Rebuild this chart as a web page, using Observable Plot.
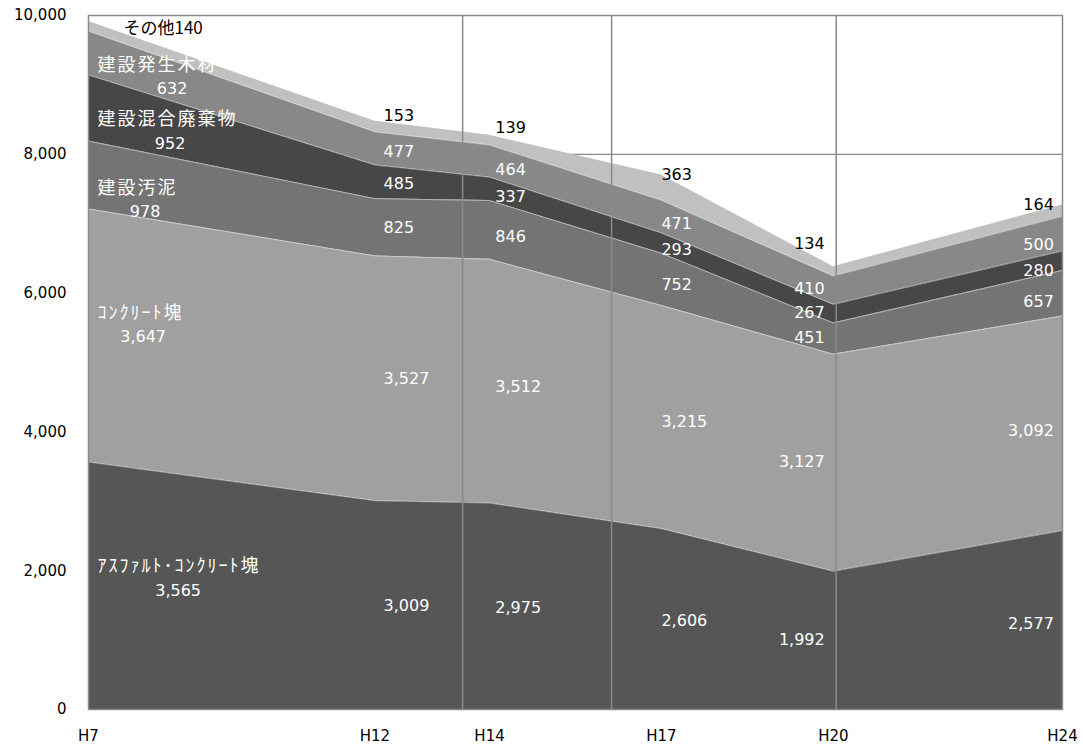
<!DOCTYPE html>
<html>
<head>
<meta charset="utf-8">
<script src="https://cdn.jsdelivr.net/npm/d3@7"></script>
<script src="https://cdn.jsdelivr.net/npm/@observablehq/plot@0.6"></script>
<style>
  html, body { margin: 0; padding: 0; background: #fff; }
</style>
</head>
<body>
<div id="chart"></div>
<script>
// ---- data ----
const years = [7, 12, 14, 17, 20, 24];
const yearLabels = ["H7", "H12", "H14", "H17", "H20", "H24"];
const seriesNames = ["アスファルト・コンクリート塊", "コンクリート塊", "建設汚泥", "建設混合廃棄物", "建設発生木材", "その他"];
const seriesLabels = ["ｱｽﾌｧﾙﾄ･ｺﾝｸﾘｰﾄ塊", "ｺﾝｸﾘｰﾄ塊", "建設汚泥", "建設混合廃棄物", "建設発生木材", "その他"];
const asphalt  = [3565, 3009, 2975, 2606, 1992, 2577];
const concrete = [3647, 3527, 3512, 3215, 3127, 3092];
const sludge   = [978, 825, 846, 752, 451, 657];
const mixed    = [952, 485, 337, 293, 267, 280];
const wood     = [632, 477, 464, 471, 410, 500];
const other    = [140, 153, 139, 363, 134, 164];
const yTicks = [0, 2000, 4000, 6000, 8000, 10000];
const dividers = [13.53, 16.13, 20.05];
const colors = ["#565656", "#a0a0a0", "#747474", "#474747", "#888888", "#c0c0c0"];

const seriesValues = [asphalt, concrete, sludge, mixed, wood, other];
const rows = [];
seriesNames.forEach((s, i) => years.forEach((yr, j) => rows.push({series: s, year: yr, value: seriesValues[i][j]})));

// cumulative tops per year (for label placement)
const tops = years.map((_, j) => { let c = 0; return seriesValues.map(v => (c += v[j])); });
function topsAt(yr) {
  let j = 0;
  while (j < years.length - 2 && yr > years[j + 1]) j++;
  const t = (yr - years[j]) / (years[j + 1] - years[j]);
  return tops[j].map((v, i) => v + t * (tops[j + 1][i] - v));
}
const fmt = d3.format(",");
const last = seriesNames.length - 1;

const numFont = "'DejaVu Sans', 'Noto Sans CJK JP', sans-serif";
const jpFont = "'Noto Sans CJK JP', 'DejaVu Sans', sans-serif";

// ---- label layout (per column) ----
const cols = [
  {j: 1, x: 12.15, at: 12.5, anchor: "start", topDy: -9},
  {j: 2, x: 14.1, at: 14.45, anchor: "start", topDy: -13},
  {j: 3, x: 17.0, at: 17.3, anchor: "start", topDy: -9},
  {j: 4, x: 19.85, at: 19.95, anchor: "end", topDy: -21},
  {j: 5, x: 23.85, at: 23.2, anchor: "end", topDy: -12}
];
const labelMarks = [];
cols.forEach(c => {
  const tp = topsAt(c.at);
  const vals = [];
  for (let i = 0; i < last; i++) {
    const b = i === 0 ? 0 : tp[i - 1];
    vals.push({x: c.x, y: (b + tp[i]) / 2, text: fmt(seriesValues[i][c.j])});
  }
  labelMarks.push(Plot.text(vals, {x: "x", y: "y", text: "text", textAnchor: c.anchor, fill: "#fff", fontSize: 16, fontFamily: numFont}));
  labelMarks.push(Plot.text([{x: c.x, y: tp[last], text: fmt(seriesValues[last][c.j])}],
    {x: "x", y: "y", text: "text", textAnchor: c.anchor, dy: c.topDy, fill: "#000", fontSize: 16, fontFamily: numFont}));
});
// first column (H7): series names + values
const h7At = 8.25;
const h7Dx = [18, -17, -15, 10, 12];
const h7Dy = [-12, -21, 12, 5, 0];
const tp0 = topsAt(h7At);
for (let i = 0; i < last; i++) {
  const b = i === 0 ? 0 : tp0[i - 1];
  const mid = (b + tp0[i]) / 2;
  labelMarks.push(Plot.text([{x: h7At, y: mid, text: fmt(seriesValues[i][0])}],
    {x: "x", y: "y", text: "text", textAnchor: "middle", dx: h7Dx[i], dy: 12 + h7Dy[i], fill: "#fff", fontSize: 16, fontFamily: numFont}));
  labelMarks.push(Plot.text([{x: years[0], y: mid, text: seriesLabels[i]}],
    {x: "x", y: "y", text: "text", textAnchor: "start", dx: 9, dy: -12 + h7Dy[i], fill: "#fff", fontSize: 18, fontFamily: jpFont, className: "jpname"}));
}
labelMarks.push(Plot.text([{x: h7At, y: tp0[last], text: seriesLabels[last] + fmt(seriesValues[last][0])}],
  {x: "x", y: "y", text: "text", textAnchor: "middle", dx: 3, dy: -18, fill: "#000", fontSize: 17, fontFamily: jpFont}));

const chart = Plot.plot({
  width: 1083,
  height: 745,
  marginLeft: 88,
  marginRight: 21,
  marginTop: 15,
  marginBottom: 36,
  x: {type: "linear", domain: [7, 24]},
  y: {domain: [0, 10000]},
  color: {domain: seriesNames, range: colors},
  style: {fontFamily: numFont, fontSize: "15px", color: "#000", background: "#fff"},
  marks: [
    Plot.ruleY(yTicks, {stroke: "#8a8a8a", strokeWidth: 1.2}),
    Plot.areaY(rows, {x: "year", y: "value", z: "series", fill: "series"}),
    Plot.lineY(rows, Plot.stackY2({
      x: "year", y: "value", z: "series",
      stroke: "#ffffff",
      strokeOpacity: d => d.series === seriesNames[last] ? 0 : 0.55,
      strokeWidth: 0.8
    })),
    Plot.ruleX(dividers, {stroke: "#8a8a8a", strokeWidth: 1.5}),
    Plot.frame({stroke: "#8a8a8a", strokeWidth: 1.5}),
    Plot.axisY(yTicks, {tickSize: 0, tickPadding: 22, tickFormat: fmt, fontSize: 15, fill: "#000"}),
    Plot.axisX(years, {tickSize: 0, tickPadding: 21, tickFormat: d => yearLabels[years.indexOf(d)], fontSize: 15, fill: "#000"}),
    ...labelMarks
  ]
});
document.getElementById("chart").appendChild(chart);
chart.querySelectorAll("g.jpname text").forEach(t => t.setAttribute("letter-spacing", "2"));
</script>
</body>
</html>
